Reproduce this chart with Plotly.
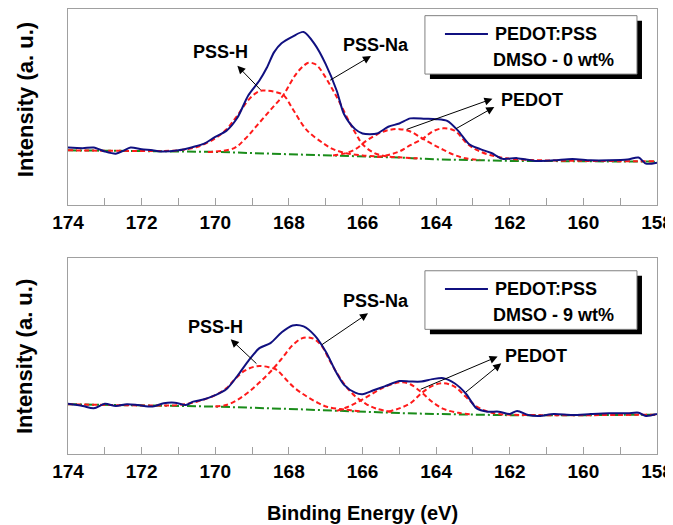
import plotly.graph_objects as go

# ---------------- data (binding energy eV, intensity a.u.) ----------------
# Top panel: DMSO 0 wt%
env0_x = [174.0, 173.6, 173.3, 173.0, 172.7, 172.5, 172.3, 172.0, 171.7, 171.5, 171.0, 170.6, 170.3,
          170.0, 169.7, 169.4, 169.1, 168.8, 168.6, 168.4, 168.2, 167.9, 167.6, 167.3, 167.0, 166.7,
          166.5, 166.2, 166.0, 165.8, 165.6, 165.3, 165.0, 164.7, 164.3, 164.0, 163.7, 163.4, 163.1,
          162.8, 162.5, 162.2, 161.8, 161.3, 160.8, 160.3, 159.8, 159.3, 158.8, 158.5, 158.3, 158.0]
env0_y = [29.3, 29.0, 29.3, 27.3, 26.2, 27.6, 29.3, 28.4, 27.9, 27.3, 27.9, 29.6, 31.3,
          34.8, 37.8, 44.5, 56.0, 63.5, 70.0, 78.0, 82.5, 85.9, 88.3, 82.1, 71.9, 58.3,
          46.3, 38.7, 36.5, 36.1, 36.5, 39.9, 41.6, 44.2, 44.0, 43.8, 42.9, 37.8, 31.0,
          28.5, 26.5, 23.6, 23.9, 22.5, 22.8, 23.5, 22.8, 22.8, 23.2, 24.2, 21.1, 21.6]
base0_x = [174, 172, 170, 168, 167, 166, 165, 164, 163, 162, 160, 158]
base0_y = [27.9, 27.6, 27.1, 25.9, 25.4, 24.9, 24.2, 23.3, 22.8, 22.5, 22.3, 22.1]
pssh0_x = [174.0, 172.0, 171.0, 170.5, 170.0, 169.7, 169.42, 169.06, 168.79, 168.6, 168.4, 168.15,
           167.88, 167.52, 167.07, 166.8, 166.44, 166.0, 165.5]
pssh0_y = [27.9, 27.6, 27.9, 29.6, 34.0, 38.5, 45.1, 54.4, 58.2, 58.3, 57.8, 56.1,
           48.5, 38.3, 31.5, 28.5, 26.4, 25.3, 24.6]
pssna0_x = [170.2, 169.5, 169.2, 168.87, 168.5, 168.15, 167.95, 167.79, 167.6, 167.47, 167.3, 167.2,
            167.0, 166.8, 166.61, 166.34, 166.16, 166.0, 165.7, 165.4, 165.0, 164.5]
pssna0_y = [27.0, 28.9, 33.5, 40.5, 48.5, 56.1, 62.5, 67.2, 71.0, 72.6, 72.0, 70.5,
            65.0, 58.5, 51.9, 41.7, 35.7, 31.0, 26.7, 25.0, 24.3, 23.8]
ped10_x = [166.8, 166.5, 166.2, 165.9, 165.6, 165.3, 165.0, 164.7, 164.4, 164.1, 163.8, 163.5, 163.2, 162.8]
ped10_y = [25.2, 26.2, 28.4, 32.7, 36.1, 38.2, 38.7, 37.5, 34.2, 31.0, 28.1, 25.5, 23.8, 23.0]
ped20_x = [165.6, 165.3, 165.0, 164.7, 164.35, 164.1, 163.81, 163.5, 163.17, 162.9, 162.54, 162.09,
           161.5, 160.0, 158.0]
ped20_y = [24.5, 25.5, 27.3, 30.5, 34.0, 37.5, 39.1, 38.0, 31.5, 28.1, 25.5, 23.8,
           23.0, 22.5, 22.3]

# Bottom panel: DMSO 9 wt%
env9_x = [174.0, 173.6, 173.3, 173.0, 172.7, 172.4, 172.1, 171.7, 171.4, 171.1, 170.8, 170.6, 170.3,
          170.0, 169.7, 169.4, 169.1, 168.8, 168.5, 168.2, 167.9, 167.6, 167.3, 167.0, 166.7, 166.5,
          166.2, 166.0, 165.7, 165.4, 165.0, 164.7, 164.4, 164.1, 163.8, 163.5, 163.2, 162.9, 162.6,
          162.3, 162.0, 161.8, 161.5, 161.2, 160.8, 160.3, 159.8, 159.3, 158.8, 158.5, 158.3, 158.0]
env9_y = [25.6, 24.5, 23.3, 25.6, 24.5, 25.4, 25.0, 24.2, 25.9, 26.2, 25.0, 26.7, 27.9,
          30.0, 33.0, 39.8, 47.5, 54.0, 56.6, 62.0, 65.6, 65.1, 60.5, 52.3, 41.2, 35.3,
          31.3, 30.5, 32.5, 34.5, 37.2, 37.0, 37.0, 38.2, 38.7, 36.1, 31.0, 23.3, 21.6,
          21.6, 20.4, 22.0, 19.9, 19.4, 20.4, 19.9, 20.4, 20.8, 20.8, 21.1, 19.4, 20.4]
base9_x = [174, 172, 170, 168, 167, 166, 165, 164, 163, 162, 160, 158]
base9_y = [25.4, 24.7, 24.2, 23.0, 22.3, 21.4, 20.9, 20.4, 20.0, 19.8, 19.8, 20.1]
pssh9_x = [174.0, 172.0, 171.0, 170.5, 170.0, 169.7, 169.5, 169.2, 168.95, 168.79, 168.55, 168.33,
           168.1, 167.88, 167.65, 167.43, 167.2, 166.97, 166.5, 166.0]
pssh9_y = [25.4, 24.8, 25.0, 26.7, 30.0, 33.5, 37.5, 42.5, 44.5, 44.9, 44.3, 42.9,
           38.5, 34.3, 31.0, 28.4, 26.0, 24.1, 22.7, 21.6]
pssna9_x = [170.0, 169.7, 169.4, 169.1, 168.8, 168.5, 168.2, 167.9, 167.65, 167.47, 167.3, 167.1,
            166.9, 166.7, 166.45, 166.2, 165.9, 165.6, 165.2]
pssna9_y = [24.2, 25.0, 27.6, 31.5, 36.5, 42.0, 48.5, 55.5, 59.0, 59.5, 58.5, 54.9,
            48.0, 41.5, 34.5, 29.5, 25.5, 23.0, 21.5]
ped19_x = [166.7, 166.4, 166.1, 165.8, 165.45, 165.1, 164.9, 164.7, 164.4, 164.1, 163.8, 163.4, 163.0]
ped19_y = [22.0, 24.0, 26.8, 30.0, 33.8, 36.2, 36.6, 35.6, 31.5, 26.5, 23.0, 21.0, 20.2]
ped29_x = [165.3, 165.0, 164.7, 164.4, 164.1, 163.8, 163.5, 163.2, 162.9, 162.6, 162.3, 161.5, 160.0, 158.0]
ped29_y = [21.6, 23.3, 25.9, 31.0, 34.8, 36.1, 34.4, 29.3, 24.2, 21.6, 20.4, 19.9, 19.8, 20.1]

tick_vals = [174, 172, 170, 168, 166, 164, 162, 160, 158]
tick_text = [str(v) for v in tick_vals]
legend_labels = ["DMSO - 0 wt%", "DMSO - 9 wt%"]

# ---------------- figure ----------------
FONT = "Liberation Sans, Arial, sans-serif"
NAVY = "#101080"
RED = "#ff1a1a"
GREEN = "#1a8c1a"
FRAME = "#a0a0a0"

fig = go.Figure()

panels = [
    dict(xa="x", ya="y", env=(env0_x, env0_y), base=(base0_x, base0_y),
         comps=[(pssh0_x, pssh0_y), (pssna0_x, pssna0_y), (ped10_x, ped10_y), (ped20_x, ped20_y)]),
    dict(xa="x2", ya="y2", env=(env9_x, env9_y), base=(base9_x, base9_y),
         comps=[(pssh9_x, pssh9_y), (pssna9_x, pssna9_y), (ped19_x, ped19_y), (ped29_x, ped29_y)]),
]

for p in panels:
    fig.add_trace(go.Scatter(x=p["base"][0], y=p["base"][1], xaxis=p["xa"], yaxis=p["ya"],
                             mode="lines", line=dict(color=GREEN, width=2, dash="9px,3px,2px,3px"),
                             showlegend=False, hoverinfo="skip"))
    for cx, cy in p["comps"]:
        fig.add_trace(go.Scatter(x=cx, y=cy, xaxis=p["xa"], yaxis=p["ya"], mode="lines",
                                 line=dict(color=RED, width=2, dash="5px,3px", shape="spline", smoothing=1),
                                 showlegend=False, hoverinfo="skip"))
    fig.add_trace(go.Scatter(x=p["env"][0], y=p["env"][1], xaxis=p["xa"], yaxis=p["ya"], mode="lines",
                             line=dict(color=NAVY, width=2, shape="spline", smoothing=0.8),
                             showlegend=False, hoverinfo="skip"))

xaxis_common = dict(range=[174, 158], tickmode="array", tickvals=tick_vals, ticktext=tick_text,
                    ticks="inside", ticklen=7, tickcolor=FRAME, tickwidth=1,
                    minor=dict(dtick=1, tick0=158, ticks="inside", ticklen=7, tickcolor=FRAME),
                    showline=True, mirror=True, linecolor=FRAME, linewidth=1,
                    showgrid=False, zeroline=False, ticklabeloverflow="allow",
                    tickfont=dict(family=FONT, size=19, color="black", weight="bold"))
yaxis_common = dict(range=[0, 100], showticklabels=False, ticks="", showline=True, mirror=True,
                    linecolor=FRAME, linewidth=1, showgrid=False, zeroline=False)

# page body has an 8px margin: figure is sized/placed to compensate
fig.update_layout(
    width=665, height=517,
    margin=dict(l=60, r=16, t=1, b=71),
    paper_bgcolor="white", plot_bgcolor="white",
    xaxis=dict(**xaxis_common, anchor="y"),
    yaxis=dict(**yaxis_common, domain=[0.5596, 1.0], anchor="x"),
    xaxis2=dict(**xaxis_common, anchor="y2"),
    yaxis2=dict(**yaxis_common, domain=[0.0, 0.4404], anchor="x2"),
)

ann = []
shapes = []
TXT = dict(family=FONT, size=18, color="black", weight="bold")

# labels and arrows: (text, text_x, text_y, [(head_x, head_y, tail_x, tail_y), ...])
labels = [
    ("x", "y", [
        ("PSS-H", 169.85, 78.3, [(169.40, 71.0, 168.73, 58.0)]),
        ("PSS-Na", 165.63, 81.5, [(165.77, 76.0, 166.92, 63.2)]),
        ("PEDOT", 161.40, 53.8, [(162.47, 54.2, 164.84, 38.3), (162.42, 50.0, 163.50, 38.5)]),
    ]),
    ("x2", "y2", [
        ("PSS-H", 170.0, 64.8, [(169.58, 58.5, 168.84, 45.4)]),
        ("PSS-Na", 165.63, 78.3, [(165.85, 71.8, 167.14, 55.3)]),
        ("PEDOT", 161.30, 50.0, [(162.33, 49.7, 164.46, 32.7), (162.23, 46.3, 163.23, 31.0)]),
    ]),
]
for xr, yr, items in labels:
    for text, tx, ty, arrows in items:
        ann.append(dict(x=tx, y=ty, xref=xr, yref=yr, text=text, showarrow=False,
                        xanchor="center", yanchor="middle", font=TXT))
        for hx, hy, ax, ay in arrows:
            ann.append(dict(x=hx, y=hy, xref=xr, yref=yr, ax=ax, ay=ay, axref=xr, ayref=yr,
                            text="", showarrow=True, arrowhead=2, arrowsize=1.6, arrowwidth=1,
                            arrowcolor="black", standoff=0, startstandoff=0))

# legend boxes
boxes = [
    ("x domain", "y domain", 0.966, 0.668, 0.872, 0.740, legend_labels[0]),
    ("x2 domain", "y2 domain", 0.935, 0.636, 0.842, 0.709, legend_labels[1]),
]
for xr, yr, ytop, ybot, yline, ytext2, lab in boxes:
    shapes.append(dict(type="rect", xref=xr, yref=yr, x0=0.6145, x1=0.9745,
                       y0=ybot - 0.0255, y1=ytop - 0.0255, fillcolor="black", line=dict(width=0),
                       layer="above"))
    shapes.append(dict(type="rect", xref=xr, yref=yr, x0=0.606, x1=0.966, y0=ybot, y1=ytop,
                       fillcolor="white", line=dict(color="#808080", width=1), layer="above"))
    shapes.append(dict(type="line", xref=xr, yref=yr, x0=0.640, x1=0.713, y0=yline, y1=yline,
                       line=dict(color=NAVY, width=2), layer="above"))
    ann.append(dict(x=0.722, y=yline, xref=xr, yref=yr, text="PEDOT:PSS", showarrow=False,
                    xanchor="left", yanchor="middle", font=TXT))
    ann.append(dict(x=0.719, y=ytext2, xref=xr, yref=yr, text=lab, showarrow=False,
                    xanchor="left", yanchor="middle", font=TXT))

# axis titles
TTL = dict(family=FONT, size=22, color="black", weight="bold")
ann.append(dict(x=-0.073, y=0.535, xref="paper", yref="y domain", text="Intensity (a. u.)",
                textangle=-90, showarrow=False, xanchor="center", yanchor="middle", font=TTL))
ann.append(dict(x=-0.073, y=0.495, xref="paper", yref="y2 domain", text="Intensity (a. u.)",
                textangle=-90, showarrow=False, xanchor="center", yanchor="middle", font=TTL))
ann.append(dict(x=0.5, y=-0.132, xref="paper", yref="paper", text="Binding Energy (eV)",
                showarrow=False, xanchor="center", yanchor="middle",
                font=dict(family=FONT, size=20, color="black", weight="bold")))

fig.update_layout(annotations=ann, shapes=shapes)
fig.write_html("out.html")
